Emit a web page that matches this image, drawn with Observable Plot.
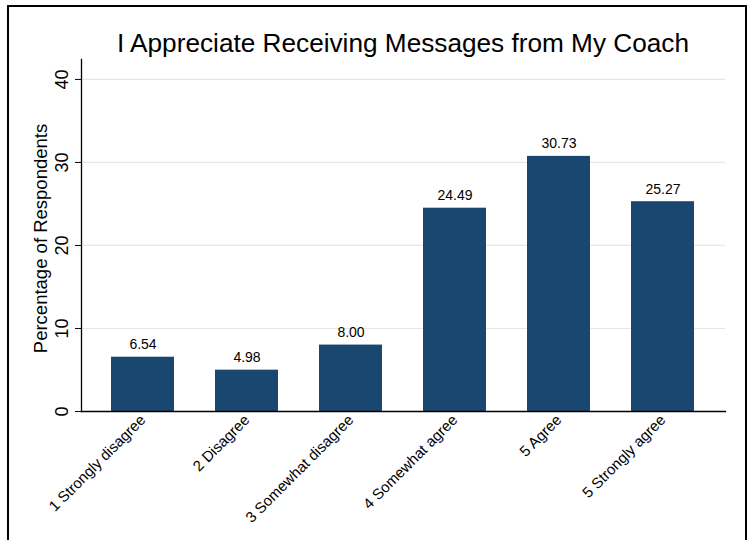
<!DOCTYPE html>
<html>
<head>
<meta charset="utf-8">
<script src="https://cdn.jsdelivr.net/npm/d3@7"></script>
<script src="https://cdn.jsdelivr.net/npm/@observablehq/plot@0.6"></script>
<style>
  html, body { margin: 0; padding: 0; background: #fff; }
  #wrap { position: relative; width: 751px; height: 540px; overflow: hidden; font-family: "Liberation Sans", Arial, sans-serif; }
  #border { position: absolute; left: 7px; top: 5px; width: 736px; height: 600px; border: 2px solid #000; pointer-events: none; }
  #title { height: 58px; box-sizing: border-box; padding-top: 29px; line-height: 29px; font-size: 26.2px; color: #000;
           padding-left: 81px; padding-right: 26px; text-align: center; white-space: nowrap; }
  svg { display: block; }
</style>
</head>
<body>
<div id="wrap">
  <div id="title">I Appreciate Receiving Messages from My Coach</div>
  <div id="chart"></div>
  <div id="border"></div>
</div>
<script>
const categories = ["1 Strongly disagree", "2 Disagree", "3 Somewhat disagree", "4 Somewhat agree", "5 Agree", "5 Strongly agree"];
const values = [6.54, 4.98, 8.00, 24.49, 30.73, 25.27];
const yTicks = [0, 10, 20, 30, 40];
const yLabel = "Percentage of Respondents";

const data = categories.map((c, i) => ({category: c, value: values[i]}));
const font = "'Liberation Sans', Arial, sans-serif";

const chart = Plot.plot({
  width: 751,
  height: 482,
  marginLeft: 81,
  marginRight: 26,
  marginTop: 1,
  marginBottom: 129,
  style: {fontFamily: font, color: "#000", background: "#fff"},
  x: {domain: categories, paddingInner: 0.394, paddingOuter: 0.29, label: null},
  y: {domain: [0, 42.4], label: null},
  marks: [
    Plot.gridY(yTicks.filter(d => d > 0), {stroke: "#e6e6e6", strokeOpacity: 1, strokeWidth: 1.2}),
    Plot.barY(data, {x: "category", y: "value", fill: "#1a476f"}),
    Plot.text(data, {x: "category", y: "value", text: d => d.value.toFixed(2), lineAnchor: "bottom", dy: -8, fontSize: 14, fill: "#000"}),
    Plot.axisY({ticks: yTicks, tickSize: 6, tickFormat: () => "", label: null, stroke: "#000"}),
    Plot.text(yTicks, {y: d => d, text: d => String(d), frameAnchor: "left", dx: -19, rotate: -90, textAnchor: "middle", lineAnchor: "middle", fontSize: 18, fill: "#000"}),
    Plot.text([yLabel], {frameAnchor: "left", dx: -40, dy: 3, rotate: -90, textAnchor: "middle", lineAnchor: "middle", fontSize: 18.5, fill: "#000"}),
    Plot.axisX({tickSize: 0, tickRotate: -45, tickPadding: 6, fontSize: 15, label: null}),
    Plot.frame({anchor: "left", stroke: "#000", strokeWidth: 1.3}),
    Plot.frame({anchor: "bottom", stroke: "#000", strokeWidth: 1.3})
  ]
});
document.getElementById("chart").appendChild(chart);
</script>
</body>
</html>
